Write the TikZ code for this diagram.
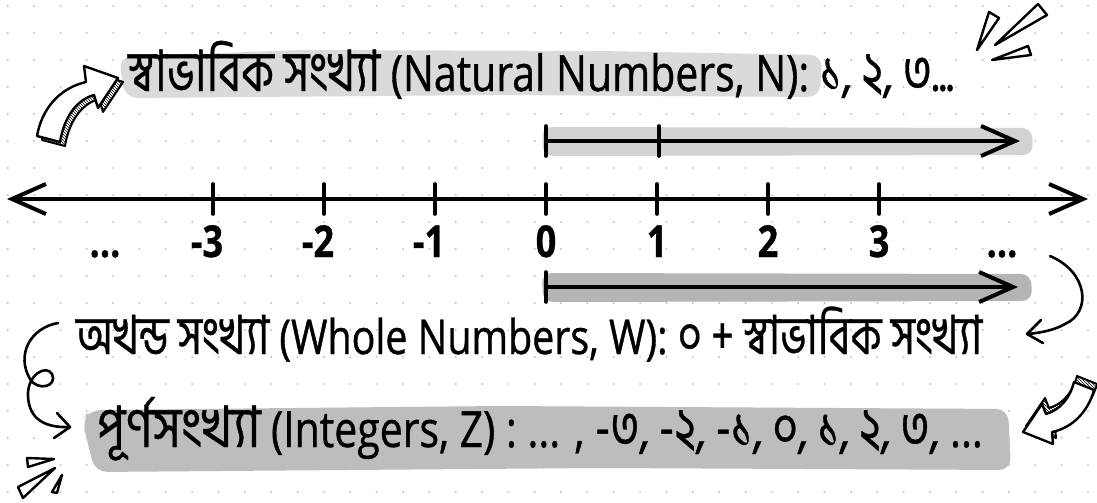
\documentclass[tikz,border=0pt]{standalone}
\usepackage{fontspec}
\setmainfont{Open Sans}[FakeStretch=0.82,FakeBold=0.8]
\newfontfamily\bnA[Script=Bengali,FakeStretch=0.77,FakeBold=0.6]{Hind Siliguri}
\newfontfamily\bnB[Script=Bengali,FakeStretch=0.86,FakeBold=0.6]{Hind Siliguri}
\newcommand\bnbig{\bnA\fontsize{57}{60}\selectfont}
\newcommand\bnwide{\bnB\fontsize{57}{60}\selectfont}
\newcommand\bnmid{\bnA\fontsize{54}{56}\selectfont}
\usetikzlibrary{arrows.meta,patterns}
\definecolor{dotc}{HTML}{C4C4C4}
\definecolor{hlA}{HTML}{DADADA}
\definecolor{hlB}{HTML}{BDBDBD}
\definecolor{barA}{HTML}{D2D2D2}
\definecolor{barB}{HTML}{B4B4B4}
\tikzset{
  chev/.tip={Straight Barb[length=34pt,width=30pt]},
  axis/.style={line width=4pt, line cap=round, line join=round},
  tick/.style={line width=3.6pt, line cap=round},
  lbl/.style={font=\fontsize{44}{46}\selectfont\bfseries, anchor=base},
  bigtext/.style={font=\fontsize{50}{60}\selectfont, anchor=base west, inner sep=0pt},
  midtext/.style={font=\fontsize{48}{56}\selectfont, anchor=base west, inner sep=0pt},
  sketch/.style={line width=2.6pt, line cap=round, line join=round},
  sparkle/.style={line width=2.4pt, line join=round},
  hatched/.style={pattern=north west lines, draw=black, line width=2pt, line join=round},
  face/.style={fill=white, draw=black, line width=2.4pt, line join=round}
}
\begin{document}
\begin{tikzpicture}[x=1pt,y=-1pt]
\useasboundingbox (0,0) rectangle (1097,503);
\fill[white] (0,0) rectangle (1097,503);
% dot grid
\foreach \i in {0,...,41}{\foreach \j in {0,...,18}{\fill[dotc] ({7.7+26.35*\i},{6+27*\j}) circle (1.1);}}
% highlights
\fill[hlA, rounded corners=12pt] (119,57) -- (300,50) -- (600,51) -- (822,55) -- (820,97) -- (500,95) -- (125,98) -- cycle;
\fill[hlB, rounded corners=12pt] (82,420) -- (90,410) -- (500,406) -- (1008,409) -- (1011,470) -- (600,468) -- (95,472) -- cycle;
% texts
\node[bigtext] (nat) at (128,91) {{\bnbig স্বাভাবিক সংখ্যা} (Natural Numbers, N): {\bnbig ১, ২, ৩...}};
\node[midtext] (whole) at (76,354) {{\bnmid অখন্ড সংখ্যা} (Whole Numbers, W): {\bnmid ০ + স্বাভাবিক সংখ্যা}};
\node[bigtext] (int) at (97,447) {{\bnwide পূর্ণসংখ্যা} (Integers, Z) : ... , {\bnbig -৩, -২, -১, ০, ১, ২, ৩,} ...};
% natural numbers bar
\fill[barA, rounded corners=10pt] (542,127) -- (1032,128) -- (1033,155) -- (543,156) -- cycle;
\coordinate (n0) at (546,141);
\coordinate (n1) at (659,141);
\coordinate (nE) at (1020,141);
\draw[axis,-chev] (n0) -- (nE);
\draw[tick] ([yshift=-15pt]n0) -- ([yshift=15pt]n0);
\draw[tick] ([yshift=-15pt]n1) -- ([yshift=15pt]n1);
% main number line
\coordinate (L) at (7,199);
\coordinate (R) at (1088,199);
\draw[axis,chev-chev] (L) -- (R);
\foreach \v/\x in {m3/213,m2/324,m1/435,z/546,p1/657,p2/768,p3/879}{
  \coordinate (t\v) at (\x,199);
  \draw[tick] ([yshift=-15pt]t\v) -- ([yshift=15pt]t\v);
}
\node[lbl] (dl) at (105,257) {...};
\node[lbl] (lm3) at (207,257) {-3};
\node[lbl] (lm2) at (318,257) {-2};
\node[lbl] (lm1) at (429,257) {-1};
\node[lbl] (lz) at (546,257) {0};
\node[lbl] (lp1) at (657,257) {1};
\node[lbl] (lp2) at (768,257) {2};
\node[lbl] (lp3) at (879,257) {3};
\node[lbl] (dr) at (1002,257) {...};
% whole numbers bar
\fill[barB, rounded corners=10pt] (542,273) -- (1031,274) -- (1032,301) -- (543,302) -- cycle;
\coordinate (w0) at (546,287);
\coordinate (wE) at (1018,287);
\draw[axis,-chev] (w0) -- (wE);
\draw[tick] ([yshift=-15pt]w0) -- ([yshift=15pt]w0);
% right curved arrow
\coordinate (ra) at (1050,256);
\coordinate (rb) at (1027,334);
\draw[sketch] (ra) .. controls (1088,272) and (1092,312) .. (1065,324) .. controls (1055,330) and (1040,333) .. (rb);
\draw[sketch] (1041,320) -- (rb) -- (1043,343);
% left loop arrow
\coordinate (la) at (58,323);
\coordinate (lb) at (70,427);
\draw[sketch] (la) .. controls (30,328) and (16,355) .. (30,379) .. controls (38,392) and (58,386) .. (52,374) .. controls (46,364) and (27,375) .. (28,396) .. controls (29,420) and (46,428) .. (lb);
\draw[sketch] (57,413) -- (lb) -- (54,438);
% top-left hollow arrow
\begin{scope}[shift={(5,4)}]
\path[hatched] (37,136) .. controls (42,108) and (60,88) .. (86,82) -- (84,66) -- (118,78) -- (98,108) -- (94,95) .. controls (76,100) and (64,118) .. (60,142) -- cycle;
\end{scope}
\path[face] (37,136) .. controls (42,108) and (60,88) .. (86,82) -- (84,66) -- (118,78) -- (98,108) -- (94,95) .. controls (76,100) and (64,118) .. (60,142) -- cycle;
% bottom-right hollow arrow
\begin{scope}[shift={(3,-6)}]
\path[hatched] (1023,432) -- (1042,404) -- (1046,414) .. controls (1060,410) and (1070,398) .. (1074,382) -- (1094,390) .. controls (1088,412) and (1072,428) .. (1052,432) -- (1053,444) -- cycle;
\end{scope}
\path[face] (1023,432) -- (1042,404) -- (1046,414) .. controls (1060,410) and (1070,398) .. (1074,382) -- (1094,390) .. controls (1088,412) and (1072,428) .. (1052,432) -- (1053,444) -- cycle;
% sparkles top-right
\draw[sparkle] (977,50) -- (989,12) -- (999,18) -- cycle;
\draw[sparkle] (995,45) -- (1038,4) -- (1047,15) -- cycle;
\draw[sparkle] (992,60) -- (1028,46) -- (1031,55) -- cycle;
% sparkles bottom-left
\draw[sparkle] (27,458) -- (28,467) -- (54,459) -- cycle;
\draw[sparkle] (18,487) -- (23,498) -- (55,468) -- cycle;
\draw[sparkle] (52,492) -- (57,493) -- (62,475) -- cycle;
\end{tikzpicture}
\end{document}
